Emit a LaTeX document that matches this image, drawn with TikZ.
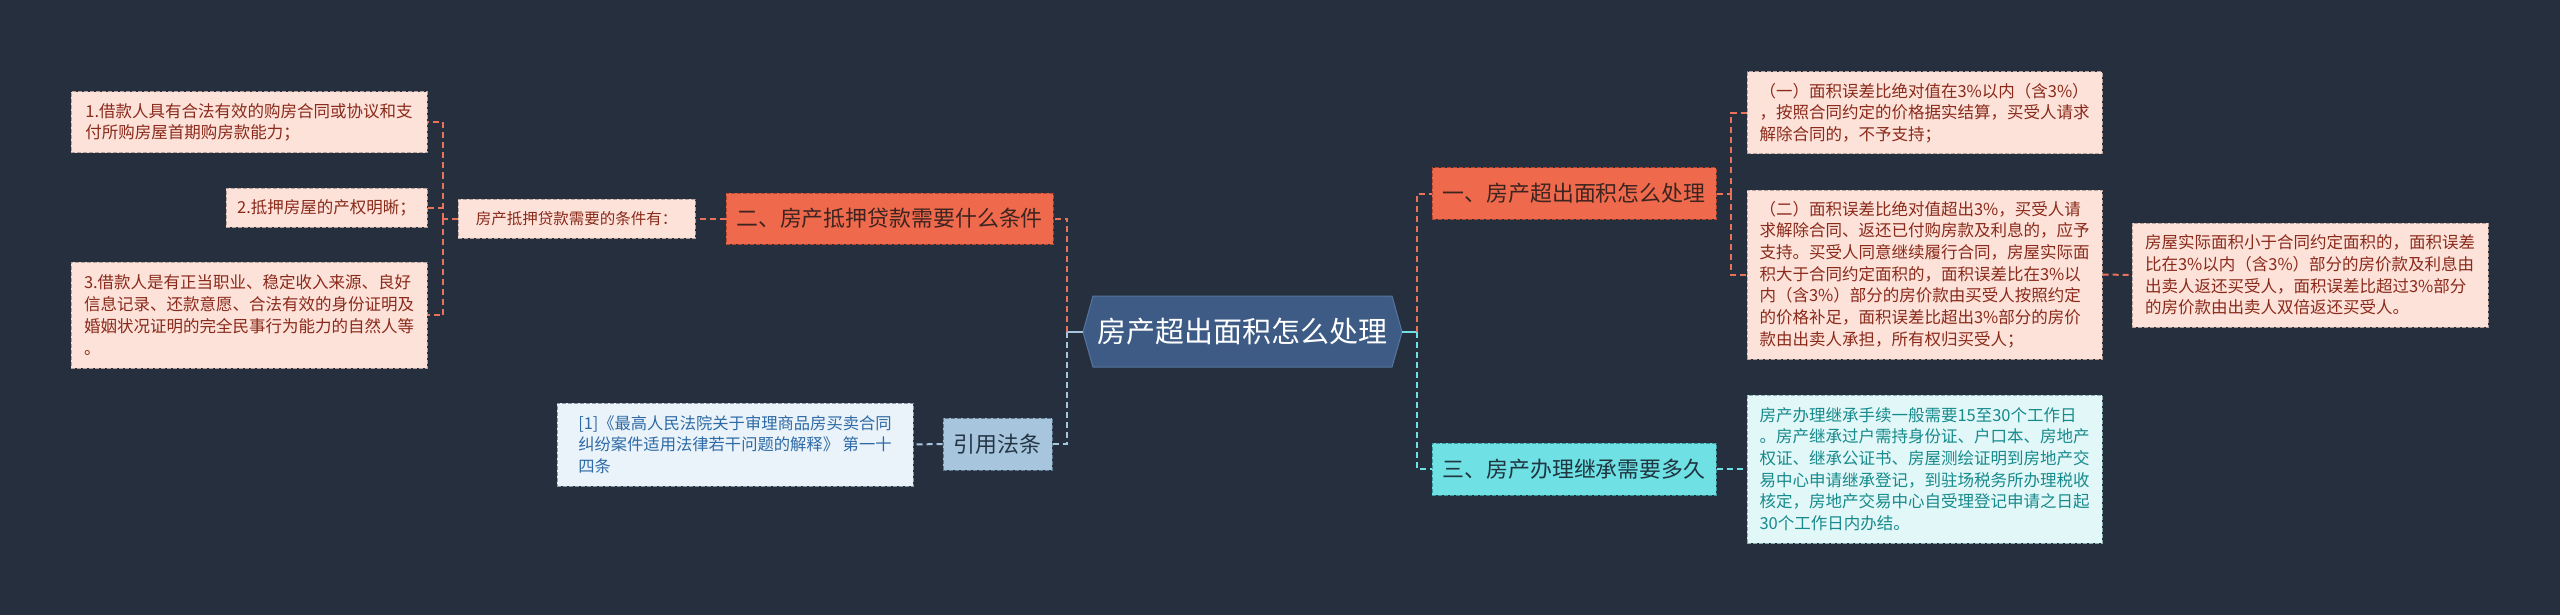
\documentclass[tikz,border=0pt]{standalone}
\usepackage{fontspec}
\setmainfont{Noto Sans CJK SC}
\definecolor{bgc}{HTML}{262F3E}
\definecolor{rootfill}{HTML}{3D5B85}
\definecolor{rootdraw}{HTML}{56769E}
\definecolor{orgfill}{HTML}{EF6A4C}
\definecolor{orgtext}{HTML}{3D2420}
\definecolor{orgdraw}{HTML}{B4452E}
\definecolor{pinkfill}{HTML}{FDE2DA}
\definecolor{pinktext}{HTML}{8A2A1A}
\definecolor{pinkdraw}{HTML}{B9A19B}
\definecolor{lbfill}{HTML}{A7C6DD}
\definecolor{lbtext}{HTML}{253545}
\definecolor{lbdraw}{HTML}{5D7A90}
\definecolor{citfill}{HTML}{EAF3F9}
\definecolor{cittext}{HTML}{2E6AA6}
\definecolor{citdraw}{HTML}{8A98A6}
\definecolor{cyfill}{HTML}{6FE0E4}
\definecolor{cytext}{HTML}{1F3540}
\definecolor{cydraw}{HTML}{3A9AA0}
\definecolor{dfill}{HTML}{E2F7F8}
\definecolor{dtext}{HTML}{178A8C}
\definecolor{ddraw}{HTML}{8AB0B2}
\definecolor{corg}{HTML}{E8735A}
\definecolor{clb}{HTML}{A7C6DD}
\definecolor{ccy}{HTML}{6FE0E4}
\tikzset{
  box/.style={rectangle, inner sep=0pt, line width=1pt, dash pattern=on 4pt off 2pt},
  leafpink/.style={box, fill=pinkfill, draw=pinkdraw, text=pinktext, align=left, font=\fontsize{16.5}{21.7}\selectfont},
  leafcit/.style={box, fill=citfill, draw=citdraw, text=cittext, align=left, font=\fontsize{16.3}{21.7}\selectfont},
  leafcy/.style={box, fill=dfill, draw=ddraw, text=dtext, align=left, font=\fontsize{16.5}{21.7}\selectfont},
  mainorg/.style={box, fill=orgfill, draw=orgdraw, text=orgtext, font=\fontsize{21.9}{26}\selectfont},
  mainlb/.style={box, fill=lbfill, draw=lbdraw, text=lbtext, font=\fontsize{21.9}{26}\selectfont},
  maincy/.style={box, fill=cyfill, draw=cydraw, text=cytext, font=\fontsize{21.9}{26}\selectfont},
  conorg/.style={draw=corg, line width=2pt, dash pattern=on 6pt off 4pt},
  conlb/.style={draw=clb, line width=2pt, dash pattern=on 6pt off 4pt},
  concy/.style={draw=ccy, line width=2pt, dash pattern=on 6pt off 4pt},
  stublb/.style={draw=clb, line width=2pt},
  stubcy/.style={draw=ccy, line width=2pt},
}
\begin{document}
\begin{tikzpicture}[x=1pt, y=-1pt]
\useasboundingbox[fill=bgc] (0,0) rectangle (2560,615);

% root hexagon
\fill[rootfill, draw=rootdraw, line width=1pt] (1083,332) -- (1093,296) -- (1392,296) -- (1402,332) -- (1392,367) -- (1093,367) -- cycle;
\node[rectangle, inner sep=0pt, minimum width=319pt, minimum height=71pt, text=white, font=\fontsize{29}{34}\selectfont] (root) at (1242.5,332) {房产超出面积怎么处理};

% left branch
\node[mainorg, minimum width=327pt, minimum height=51pt] (n2) at (889.5,218.5) {二、房产抵押贷款需要什么条件};
\node[leafpink, minimum width=237pt, minimum height=39pt, font=\fontsize{15.5}{20}\selectfont] (cond) at (576.5,218.5) {房产抵押贷款需要的条件有：};
\node[leafpink, minimum width=356pt, minimum height=61pt] (b1) at (249,122.5) {1.借款人具有合法有效的购房合同或协议和支\\付所购房屋首期购房款能力；};
\node[leafpink, minimum width=201pt, minimum height=39pt] (b2) at (326.5,207.5) {2.抵押房屋的产权明晰；};
\node[leafpink, minimum width=356pt, minimum height=106pt] (b3) at (249,315) {3.借款人是有正当职业、稳定收入来源、良好\\信息记录、还款意愿、合法有效的身份证明及\\婚姻状况证明的完全民事行为能力的自然人等\\。};

\node[mainlb, minimum width=109pt, minimum height=52pt] (ref) at (997.5,444) {引用法条};
\node[leafcit, minimum width=356pt, minimum height=83pt] (cit) at (735,444.5) {[1]《最高人民法院关于审理商品房买卖合同\\纠纷案件适用法律若干问题的解释》 第一十\\四条};

% right branch
\node[mainorg, minimum width=284pt, minimum height=51pt] (n1) at (1574,193.5) {一、房产超出面积怎么处理};
\node[leafpink, minimum width=355pt, minimum height=82pt] (bA) at (1924.5,113) {（一）面积误差比绝对值在3\%以内（含3\%）\\，按照合同约定的价格据实结算，买受人请求\\解除合同的，不予支持；};
\node[leafpink, minimum width=355pt, minimum height=169pt] (bB) at (1924.5,274.5) {（二）面积误差比绝对值超出3\%，买受人请\\求解除合同、返还已付购房款及利息的，应予\\支持。买受人同意继续履行合同，房屋实际面\\积大于合同约定面积的，面积误差比在3\%以\\内（含3\%）部分的房价款由买受人按照约定\\的价格补足，面积误差比超出3\%部分的房价\\款由出卖人承担，所有权归买受人；};
\node[leafpink, minimum width=356pt, minimum height=104pt] (bC) at (2310,275) {房屋实际面积小于合同约定面积的，面积误差\\比在3\%以内（含3\%）部分的房价款及利息由\\出卖人返还买受人，面积误差比超过3\%部分\\的房价款由出卖人双倍返还买受人。};
\node[maincy, minimum width=284pt, minimum height=52pt] (n3) at (1574,469) {三、房产办理继承需要多久};
\node[leafcy, minimum width=355pt, minimum height=148pt] (bD) at (1924.5,469) {房产办理继承手续一般需要15至30个工作日\\。房产继承过户需持身份证、户口本、房地产\\权证、继承公证书、房屋测绘证明到房地产交\\易中心申请继承登记，到驻场税务所办理税收\\核定，房地产交易中心自受理登记申请之日起\\30个工作日内办结。};

% junction coordinates
\coordinate (jr) at (1417,332);
\coordinate (jl) at (1067,332);
\coordinate (j1) at (1731,193.5);
\coordinate (j2) at (443,218.5);

% root connectors
\draw[stubcy] (root.east) -- (jr);
\draw[conorg] (jr) |- (n1.west);
\draw[concy] (jr) |- (n3.west);
\draw[stublb] (root.west) -- (jl);
\draw[conorg] (jl) |- (n2.east);
\draw[conlb] (jl) |- (ref.east);

% right leaves
\draw[conorg] (n1.east) -- (j1);
\draw[conorg] (j1) |- (bA.west);
\draw[conorg] (j1) |- (bB.west);
\draw[conorg] (bB.east) -- (bC.west);
\draw[concy] (n3.east) -- (bD.west);

% left leaves
\draw[conorg] (n2.west) -- (cond.east);
\draw[conorg] (cond.west) -- (j2);
\draw[conorg] (j2) |- (b1.east);
\draw[conorg] (j2) |- (b2.east);
\draw[conorg] (j2) |- (b3.east);
\draw[conlb] (ref.west) -- (cit.east);
\end{tikzpicture}
\end{document}
